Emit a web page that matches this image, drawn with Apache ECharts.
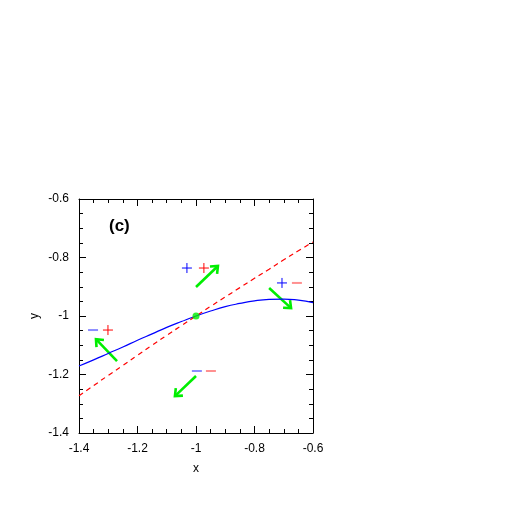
<!DOCTYPE html>
<html>
<head>
<meta charset="utf-8">
<script src="https://cdn.jsdelivr.net/npm/echarts@6/dist/echarts.min.js"></script>
<style>
  html, body { margin: 0; padding: 0; background: #fff; }
  #chart { width: 512px; height: 512px; }
</style>
</head>
<body>
<div id="chart"></div>
<script>
// values
var xs = [-1.4, -1.35, -1.3, -1.25, -1.2, -1.15, -1.1, -1.05, -1.0, -0.95, -0.9, -0.85, -0.8, -0.75, -0.7, -0.65, -0.6];
var blueY = [-1.171, -1.150, -1.128, -1.106, -1.083, -1.061, -1.039, -1.019, -1.0, -0.983, -0.968, -0.957, -0.948, -0.943, -0.942, -0.946, -0.954];
var redY = [-1.273, -1.238, -1.203, -1.169, -1.134, -1.100, -1.066, -1.033, -1.0, -0.967, -0.935, -0.903, -0.871, -0.840, -0.808, -0.777, -0.747];
var fixedPoint = [[-1.0, -1.0]];
// arrows: [x0, y0, x1, y1]
var arrows = [
  [-1.0, -0.901, -0.925, -0.829],
  [-0.750, -0.904, -0.675, -0.973],
  [-1.270, -1.154, -1.342, -1.079],
  [-1.0, -1.205, -1.072, -1.274]
];
// signs: [x, y, sign, colour]
var signs = [
  [-1.031, -0.836, '+', 'blue'],
  [-0.973, -0.836, '+', 'red'],
  [-0.706, -0.887, '+', 'blue'],
  [-0.655, -0.887, '-', 'red'],
  [-1.352, -1.048, '-', 'blue'],
  [-1.301, -1.048, '+', 'red'],
  [-0.997, -1.188, '-', 'blue'],
  [-0.949, -1.188, '-', 'red']
];
var xTicks = [-1.4, -1.2, -1, -0.8, -0.6];
var yTicks = [-1.4, -1.2, -1, -0.8, -0.6];

var chart = echarts.init(document.getElementById('chart'));
var font = 'Liberation Sans';

function axisBase(pos, show, ticks) {
  return {
    type: 'value',
    position: pos,
    min: ticks[0],
    max: ticks[ticks.length - 1],
    interval: 0.2,
    axisLine: { show: true, onZero: false, lineStyle: { color: '#000', width: 1 } },
    axisTick: { show: true, inside: true, length: 7, lineStyle: { color: '#000' } },
    minorTick: { show: true, splitNumber: 4, length: 4, lineStyle: { color: '#000' } },
    splitLine: { show: false },
    axisLabel: {
      show: show,
      color: '#000',
      fontSize: 12,
      fontFamily: font,
      formatter: function (v) { return String(Math.round(v * 10) / 10); }
    }
  };
}

var xMain = axisBase('bottom', true, xTicks);
xMain.name = 'x';
xMain.nameLocation = 'middle';
xMain.nameGap = 30;
xMain.nameTextStyle = { color: '#000', fontSize: 12, fontFamily: font };
xMain.axisLabel.margin = 10;
var yMain = axisBase('left', true, yTicks);
yMain.name = 'y';
yMain.nameLocation = 'middle';
yMain.nameGap = 38;
yMain.nameTextStyle = { color: '#000', fontSize: 12, fontFamily: font };
yMain.axisLabel.margin = 10;
yMain.axisLabel.padding = [4, 0, 0, 0];

var option = {
  animation: false,
  grid: { left: 79, top: 199, width: 234, height: 234 },
  title: {
    text: '(c)',
    left: 104,
    top: 213,
    textStyle: { fontSize: 17, fontWeight: 'bold', fontFamily: font, color: '#000' }
  },
  xAxis: [xMain, axisBase('top', false, xTicks)],
  yAxis: [yMain, axisBase('right', false, yTicks)],
  series: [
    {
      type: 'line',
      data: xs.map(function (x, i) { return [x, blueY[i]]; }),
      smooth: true,
      showSymbol: false,
      lineStyle: { color: '#0000ff', width: 1.2 }
    },
    {
      type: 'line',
      data: xs.map(function (x, i) { return [x, redY[i]]; }),
      smooth: true,
      showSymbol: false,
      lineStyle: { color: '#ff0000', width: 1.2, type: [5, 4] }
    },
    {
      type: 'custom',
      data: arrows,
      renderItem: function (params, api) {
        var p0 = api.coord([api.value(0), api.value(1)]);
        var p1 = api.coord([api.value(2), api.value(3)]);
        var ang = Math.atan2(p1[1] - p0[1], p1[0] - p0[0]);
        var h = 8, a = Math.PI / 4.5;
        var l = [p1[0] - h * Math.cos(ang - a), p1[1] - h * Math.sin(ang - a)];
        var r = [p1[0] - h * Math.cos(ang + a), p1[1] - h * Math.sin(ang + a)];
        var st = { stroke: '#00ee00', lineWidth: 2.6, fill: null };
        return {
          type: 'group',
          children: [
            { type: 'line', shape: { x1: p0[0], y1: p0[1], x2: p1[0], y2: p1[1] }, style: st },
            { type: 'polyline', shape: { points: [l, p1, r] }, style: st }
          ]
        };
      }
    },
    {
      type: 'custom',
      data: signs,
      renderItem: function (params, api) {
        var s = signs[params.dataIndex];
        var p = api.coord([s[0], s[1]]);
        var half = 5;
        var col = s[3] === 'blue' ? '#0000ff' : '#ff0000';
        var children = [];
        if (s[2] === '+') {
          children.push({ type: 'line', shape: { x1: p[0] - half, y1: p[1], x2: p[0] + half, y2: p[1] }, style: { stroke: col, lineWidth: 1 } });
          children.push({ type: 'line', shape: { x1: p[0], y1: p[1] - half, x2: p[0], y2: p[1] + half }, style: { stroke: col, lineWidth: 1 } });
        } else {
          var light = s[3] === 'blue' ? '#8c8cff' : '#ff9090';
          children.push({ type: 'line', shape: { x1: p[0] - half, y1: p[1], x2: p[0] + half, y2: p[1] }, style: { stroke: light, lineWidth: 2 } });
        }
        return { type: 'group', children: children };
      }
    },
    {
      type: 'scatter',
      data: fixedPoint,
      symbol: 'circle',
      symbolSize: 7,
      itemStyle: { color: '#00ee00' },
      z: 5
    }
  ]
};
chart.setOption(option);
</script>
</body>
</html>
